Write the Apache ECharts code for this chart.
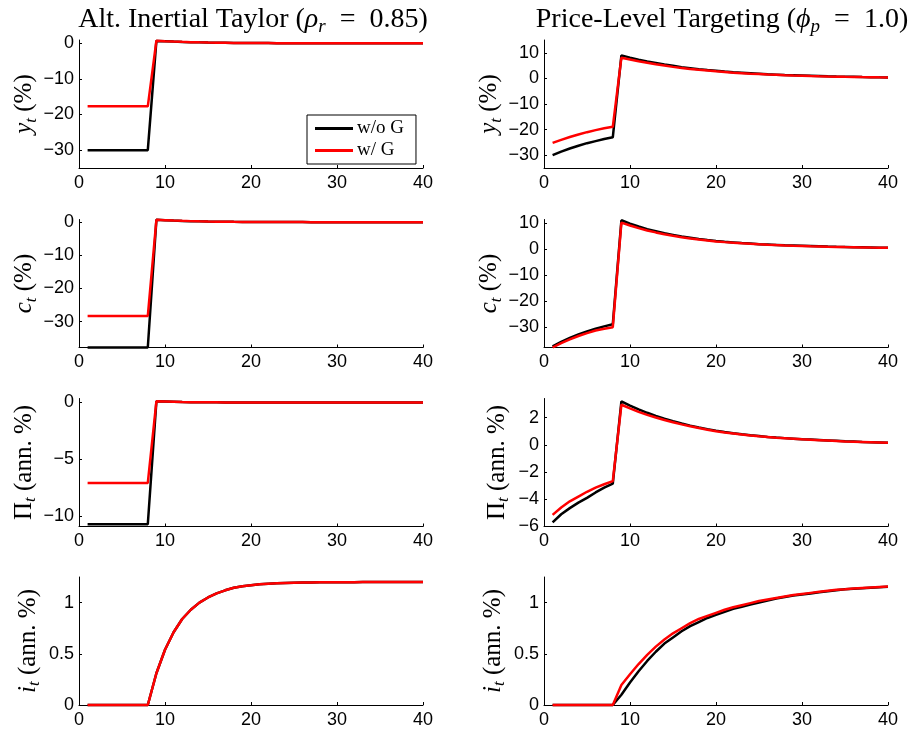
<!DOCTYPE html>
<html><head><meta charset="utf-8">
<script src="https://cdn.jsdelivr.net/npm/echarts@6/dist/echarts.min.js"></script>
<style>html,body{margin:0;padding:0;background:#fff}#c{width:913px;height:733px}</style>
</head><body><div id="c"></div>
<script>
// ---------- data ----------
const periods = [1,2,3,4,5,6,7,8,9,10,11,12,13,14,15,16,17,18,19,20,21,22,23,24,25,26,27,28,29,30,31,32,33,34,35,36,37,38,39,40];
const seriesNames = ['w/o G', 'w/ G'];
const xTicks = [0, 10, 20, 30, 40];

// Left column: Alt. Inertial Taylor
const yAltNoG = [-30,-30,-30,-30,-30,-30,-30,-30,0.65,0.55,0.45,0.37,0.3,0.24,0.19,0.15,0.12,0.09,0.07,0.05,0.04,0.03,0.02,0.02,0.01,0.01,0,0,0,0,0,0,0,0,0,0,0,0,0,0];
const yAltG   = [-17.7,-17.7,-17.7,-17.7,-17.7,-17.7,-17.7,-17.7,0.7,0.58,0.47,0.38,0.3,0.24,0.19,0.15,0.12,0.09,0.07,0.05,0.04,0.03,0.02,0.02,0.01,0.01,0,0,0,0,0,0,0,0,0,0,0,0,0,0];
const cAltNoG = [-37.8,-37.8,-37.8,-37.8,-37.8,-37.8,-37.8,-37.8,0.7,0.58,0.47,0.38,0.3,0.24,0.19,0.15,0.12,0.09,0.07,0.05,0.04,0.03,0.02,0.02,0.01,0.01,0,0,0,0,0,0,0,0,0,0,0,0,0,0];
const cAltG   = [-28.3,-28.3,-28.3,-28.3,-28.3,-28.3,-28.3,-28.3,0.72,0.6,0.48,0.39,0.31,0.24,0.19,0.15,0.12,0.09,0.07,0.05,0.04,0.03,0.02,0.02,0.01,0.01,0,0,0,0,0,0,0,0,0,0,0,0,0,0];
const piAltNoG = [-10.7,-10.7,-10.7,-10.7,-10.7,-10.7,-10.7,-10.7,0.1,0.08,0.06,0.04,0.03,0.02,0.01,0.01,0,0,0,0,0,0,0,0,0,0,0,0,0,0,0,0,0,0,0,0,0,0,0,0];
const piAltG   = [-7.07,-7.07,-7.07,-7.07,-7.07,-7.07,-7.07,-7.07,0.1,0.08,0.06,0.04,0.03,0.02,0.01,0.01,0,0,0,0,0,0,0,0,0,0,0,0,0,0,0,0,0,0,0,0,0,0,0,0];
const iAltNoG = [0,0,0,0,0,0,0,0,0.31,0.54,0.71,0.84,0.93,1.0,1.05,1.09,1.12,1.145,1.16,1.17,1.18,1.185,1.19,1.192,1.194,1.196,1.197,1.198,1.198,1.199,1.199,1.199,1.2,1.2,1.2,1.2,1.2,1.2,1.2,1.2];
const iAltG   = [0,0,0,0,0,0,0,0,0.31,0.54,0.71,0.84,0.93,1.0,1.05,1.09,1.12,1.145,1.16,1.17,1.18,1.185,1.19,1.192,1.194,1.196,1.197,1.198,1.198,1.199,1.199,1.199,1.2,1.2,1.2,1.2,1.2,1.2,1.2,1.2];

// Right column: Price-Level Targeting
const yPltNoG = [-30,-28.6,-27.4,-26.3,-25.3,-24.5,-23.7,-23,9.0,8.1,7.3,6.6,6.0,5.4,4.9,4.4,4.0,3.6,3.25,2.95,2.65,2.4,2.2,2.0,1.8,1.6,1.45,1.3,1.2,1.1,1.0,0.9,0.8,0.72,0.65,0.6,0.54,0.49,0.44,0.4];
const yPltG   = [-25.2,-24.0,-22.9,-21.9,-21.0,-20.2,-19.5,-18.9,8.1,7.4,6.7,6.1,5.5,5.0,4.5,4.1,3.7,3.35,3.05,2.75,2.5,2.25,2.05,1.85,1.7,1.5,1.38,1.25,1.13,1.03,0.93,0.84,0.76,0.69,0.62,0.57,0.51,0.47,0.42,0.38];
const cPltNoG = [-37.4,-35.6,-34.1,-32.8,-31.6,-30.6,-29.7,-28.9,11.0,9.7,8.6,7.6,6.8,6.0,5.4,4.8,4.3,3.8,3.4,3.05,2.75,2.5,2.25,2.05,1.85,1.7,1.55,1.4,1.3,1.2,1.1,1.0,0.9,0.82,0.75,0.68,0.62,0.56,0.5,0.45];
const cPltG   = [-37.8,-36.1,-34.7,-33.4,-32.3,-31.3,-30.6,-30.0,10.1,9.0,8.0,7.1,6.35,5.65,5.05,4.5,4.05,3.6,3.25,2.9,2.62,2.38,2.15,1.96,1.78,1.63,1.49,1.36,1.25,1.15,1.05,0.96,0.87,0.79,0.72,0.66,0.6,0.54,0.49,0.44];
const piPltNoG = [-5.7,-5.1,-4.65,-4.25,-3.9,-3.5,-3.15,-2.85,3.19,2.88,2.6,2.35,2.12,1.92,1.73,1.56,1.41,1.27,1.15,1.04,0.94,0.85,0.77,0.7,0.64,0.58,0.53,0.49,0.45,0.41,0.38,0.35,0.32,0.29,0.26,0.24,0.21,0.19,0.17,0.15];
const piPltG   = [-5.15,-4.6,-4.15,-3.8,-3.45,-3.15,-2.9,-2.67,2.94,2.67,2.42,2.2,2.0,1.82,1.65,1.5,1.36,1.23,1.11,1.0,0.91,0.83,0.75,0.68,0.62,0.57,0.52,0.48,0.44,0.4,0.37,0.34,0.31,0.28,0.25,0.23,0.21,0.19,0.17,0.15];
const iPltNoG = [0,0,0,0,0,0,0,0,0.1,0.22,0.33,0.43,0.52,0.6,0.66,0.72,0.77,0.81,0.85,0.88,0.91,0.94,0.96,0.98,1.0,1.02,1.04,1.055,1.07,1.08,1.09,1.1,1.11,1.12,1.13,1.135,1.14,1.145,1.15,1.155];
const iPltG   = [0,0,0,0,0,0,0,0,0.195,0.3,0.4,0.49,0.57,0.64,0.7,0.75,0.8,0.84,0.87,0.9,0.93,0.955,0.975,0.995,1.015,1.03,1.045,1.06,1.075,1.085,1.095,1.105,1.115,1.125,1.13,1.137,1.143,1.148,1.153,1.158];

// y tick labels per panel
const yTicksY  = [-30, -20, -10, 0];
const yTicksYP = [-30, -20, -10, 0, 10];
const yTicksPiAlt = [-10, -5, 0];
const yTicksPiPlt = [-6, -4, -2, 0, 2];
const yTicksI = [0, 0.5, 1];

// ---------- layout ----------
const colLeft = [79, 544];
const colWidth = 344;
const rowTop = [40, 219.5, 398.5, 577];
const rowHeight = 128;

const panels = [
  {row:0,col:0,a:yAltNoG,b:yAltG,min:-35,max:0.9,ticks:yTicksY,label:'{it|y}{sub|t}{n| (%)}',gap:36},
  {row:0,col:1,a:yPltNoG,b:yPltG,min:-35,max:15,ticks:yTicksYP,label:'{it|y}{sub|t}{n| (%)}',gap:38},
  {row:1,col:0,a:cAltNoG,b:cAltG,min:-37.8,max:0.8,ticks:yTicksY,label:'{it|c}{sub|t}{n| (%)}',gap:38},
  {row:1,col:1,a:cPltNoG,b:cPltG,min:-37.8,max:11.3,ticks:yTicksYP,label:'{it|c}{sub|t}{n| (%)}',gap:38},
  {row:2,col:0,a:piAltNoG,b:piAltG,min:-10.9,max:0.35,ticks:yTicksPiAlt,label:'{n|Π}{sub|t}{n| (ann. %)}',gap:40},
  {row:2,col:1,a:piPltNoG,b:piPltG,min:-6,max:3.4,ticks:yTicksPiPlt,label:'{n|Π}{sub|t}{n| (ann. %)}',gap:32},
  {row:3,col:0,a:iAltNoG,b:iAltG,min:0,max:1.25,ticks:yTicksI,label:'{it|i}{sub|t}{n| (ann. %)}',gap:36},
  {row:3,col:1,a:iPltNoG,b:iPltG,min:0,max:1.25,ticks:yTicksI,label:'{it|i}{sub|t}{n| (ann. %)}',gap:36}
];

const SERIF = '"Liberation Serif", "DejaVu Serif", serif';
const SANS = '"Liberation Sans", Arial, sans-serif';
const fmt = v => String(v).replace('-', '\u2212');

const labelRich = {
  n:  {fontFamily: SERIF, fontSize: 25, lineHeight: 30, color: '#000'},
  it: {fontFamily: SERIF, fontSize: 25, fontStyle: 'italic', lineHeight: 30, color: '#000'},
  sub:{fontFamily: SERIF, fontSize: 17, fontStyle: 'italic', lineHeight: 18, verticalAlign: 'bottom', color: '#000'}
};

const grids = [], xAxes = [], yAxes = [], series = [];
panels.forEach((p, k) => {
  grids.push({left: colLeft[p.col], top: rowTop[p.row], width: colWidth, height: rowHeight, containLabel: false});
  xAxes.push({
    type: 'value', gridIndex: k, min: 0, max: 40, interval: 10,
    axisLine: {show: true, onZero: false, lineStyle: {color: '#000', width: 1}},
    axisTick: {show: true, inside: true, length: 3, lineStyle: {color: '#000'}, customValues: xTicks},
    axisLabel: {color: '#000', fontFamily: SANS, fontSize: 18, margin: 6, customValues: xTicks},
    splitLine: {show: false}
  });
  yAxes.push({
    type: 'value', gridIndex: k, min: p.min, max: p.max,
    axisLine: {show: true, onZero: false, lineStyle: {color: '#000', width: 1}},
    axisTick: {show: true, inside: true, length: 3, lineStyle: {color: '#000'}, customValues: p.ticks},
    axisLabel: {color: '#000', fontFamily: SANS, fontSize: 18, margin: 5, customValues: p.ticks, formatter: fmt},
    splitLine: {show: false},
    name: p.label, nameLocation: 'middle', nameRotate: 90, nameGap: p.gap,
    nameTextStyle: {fontFamily: SERIF, fontSize: 25, color: '#000', lineHeight: 30, rich: labelRich}
  });
  [[p.a, '#000000', seriesNames[0]], [p.b, '#ff0000', seriesNames[1]]].forEach(([vals, color, name]) => {
    series.push({
      type: 'line', name: name, xAxisIndex: k, yAxisIndex: k,
      data: periods.map((t, i) => [t, vals[i]]),
      showSymbol: false, symbol: 'none', clip: false, animation: false,
      lineStyle: {color: color, width: 2.5}, itemStyle: {color: color}
    });
  });
});

const titleRich = {
  it: {fontFamily: SERIF, fontSize: 28, fontStyle: 'italic', lineHeight: 32, color: '#000'},
  sub:{fontFamily: SERIF, fontSize: 19, fontStyle: 'italic', lineHeight: 20, verticalAlign: 'bottom', color: '#000'}
};

const chart = echarts.init(document.getElementById('c'), null, {renderer: 'canvas'});
chart.setOption({
  backgroundColor: '#fff',
  animation: false,
  title: [
    {text: 'Alt. Inertial Taylor ({it|ρ}{sub|r}\u2002=\u20020.85)', left: 248, top: -1, textAlign: 'center',
     textStyle: {fontFamily: SERIF, fontSize: 28, fontWeight: 'normal', color: '#000', lineHeight: 32, rich: titleRich}},
    {text: 'Price-Level Targeting ({it|ϕ}{sub|p}\u2002=\u20021.0)', left: 717, top: -1, textAlign: 'center',
     textStyle: {fontFamily: SERIF, fontSize: 28, fontWeight: 'normal', color: '#000', lineHeight: 32, rich: titleRich}}
  ],
  legend: {
    data: seriesNames, orient: 'vertical', left: 307, top: 115,
    backgroundColor: '#fff', borderColor: '#000', borderWidth: 1, borderRadius: 0,
    padding: [4, 12, 4, 8], itemGap: 3, itemWidth: 38, itemHeight: 3, icon: 'rect',
    selectedMode: false,
    textStyle: {fontFamily: SERIF, fontSize: 19, color: '#000', padding: [0, 0, 0, -1]}
  },
  grid: grids, xAxis: xAxes, yAxis: yAxes, series: series
});
</script></body></html>
